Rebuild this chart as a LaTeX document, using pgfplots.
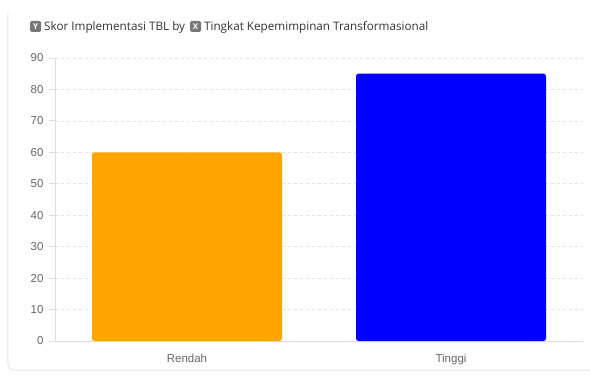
\documentclass[border=0pt]{standalone}
\usepackage{pgfplots}
\pgfplotsset{compat=1.18}
\usepackage{fontspec}
\setmainfont{Liberation Sans}
\newfontfamily\titlefont{Open Sans}
\definecolor{tickgray}{HTML}{666666}
\definecolor{gridgray}{HTML}{E3E3E3}
\definecolor{axisgray}{HTML}{DDDDDD}
\definecolor{framegray}{HTML}{E6E6E6}
\definecolor{icongray}{HTML}{777777}
\definecolor{barorange}{HTML}{FFA500}
\definecolor{barblue}{HTML}{0000FF}
\newcommand{\icon}[1]{\tikz[baseline=-0.6ex]\node[fill=icongray,rounded corners=1.5bp,text=white,font=\fontsize{8bp}{8bp}\selectfont\bfseries,inner sep=0pt,minimum width=11bp,minimum height=11bp] {#1};}
\begin{document}
\begin{tikzpicture}[x=1bp,y=1bp]
\path[use as bounding box] (-55,-35) rectangle (535,341);
\draw[framegray,line width=1bp,rounded corners=6bp] (-47,329) -- (-47,-29) -- (540,-29);
\node[anchor=west,inner sep=0pt,text=black!80,font=\titlefont\fontsize{11.7bp}{13bp}\selectfont] at (-25,314)
  {\icon{Y}\hspace{3bp}Skor Implementasi TBL by\hspace{5bp}\icon{X}\hspace{3bp}Tingkat Kepemimpinan Transformasional};
\begin{axis}[
  at={(0,0)}, anchor=south west,
  scale only axis,
  width=528bp, height=283bp,
  xmin=-0.5, xmax=1.5, ymin=0, ymax=90,
  xtick={0,1}, xticklabels={Rendah,Tinggi},
  ytick={0,10,...,90},
  axis x line*=bottom, axis y line*=left,
  axis line style={axisgray,line width=0.8bp},
  x axis line style={-}, y axis line style={-},
  ymajorgrids,
  grid style={gridgray,dashed,line width=0.7bp},
  major tick length=6bp,
  xtick style={draw=none},
  ytick style={axisgray,line width=0.8bp},
  tick align=outside,
  ticklabel style={text=tickgray,font=\fontsize{11.5bp}{13bp}\selectfont},
  /pgf/number format/assume math mode=true,
  xticklabel style={yshift=-4bp},
  yticklabel style={xshift=-2bp},
  clip=false,
]
\addplot[ybar, bar width=190bp, bar shift=0pt, fill=barorange, draw=none, rounded corners=2.5bp] coordinates {(0,60)};
\addplot[ybar, bar width=190bp, bar shift=0pt, fill=barblue, draw=none, rounded corners=2.5bp] coordinates {(1,85)};
\end{axis}
\end{tikzpicture}
\end{document}
